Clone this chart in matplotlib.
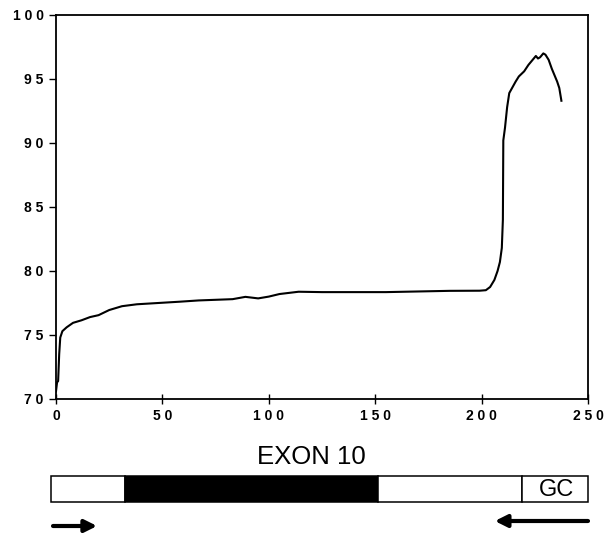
import matplotlib
matplotlib.use("Agg")
import matplotlib.pyplot as plt
from matplotlib.patches import Rectangle

# ---- data ----
position = [0, 0.5, 1, 1.5, 2, 3, 5, 8, 12, 16, 20, 25, 31, 38, 48, 58, 67, 75, 83, 89,
            95, 100, 105, 114, 125, 140, 155, 170, 185, 199, 202, 204, 206, 207.5, 208.6,
            209.5, 210, 210.2, 211, 212, 213, 214, 216, 217.5, 220, 222, 224, 225.5, 226.5,
            227.5, 229, 230, 231.5, 233, 234, 235.5, 236.5, 237.5]
melt_value = [70.6, 71.3, 71.4, 73.5, 74.8, 75.3, 75.6, 75.95, 76.15, 76.4, 76.55, 76.95,
              77.25, 77.4, 77.5, 77.6, 77.7, 77.75, 77.8, 77.98, 77.86, 78.0, 78.2, 78.38,
              78.35, 78.35, 78.35, 78.4, 78.45, 78.46, 78.5, 78.75, 79.3, 80.0, 80.7, 81.8,
              84.0, 90.2, 91.2, 92.8, 93.9, 94.2, 94.8, 95.2, 95.6, 96.1, 96.5, 96.8, 96.6,
              96.7, 97.0, 96.9, 96.5, 95.8, 95.4, 94.8, 94.3, 93.3]

x_ticks = [0, 50, 100, 150, 200, 250]
y_ticks = [70, 75, 80, 85, 90, 95, 100]

# gene map segments (sequence positions)
segment_start = [-2.4, 32.3, 151.4, 218.8]
segment_end = [32.3, 151.4, 218.8, 250]
segment_color = ["white", "black", "white", "white"]
exon_label = "EXON 10"
gc_label = "GC"
primer_forward = (-1.4, 19.3)
primer_reverse = (250, 206.2)

# ---- figure ----
W, H = 613, 533
fig = plt.figure(figsize=(W / 100, H / 100), dpi=100)
plt.rcParams['font.family'] = ['Liberation Sans', 'DejaVu Sans']

ax = fig.add_axes([56 / W, 1 - 399 / H, 532 / W, 384 / H])
ax.plot(position, melt_value, color="black", lw=1.5)
ax.set_xlim(0, 250)
ax.set_ylim(70, 100)
ax.set_xticks(x_ticks)
ax.set_yticks(y_ticks)
ax.set_xticklabels([" ".join(str(v)) for v in x_ticks], fontweight="bold", fontsize=10)
ax.set_yticklabels([" ".join(str(v)) for v in y_ticks], fontweight="bold", fontsize=10)
ax.tick_params(axis="y", direction="out", length=5, width=1, pad=4)
ax.tick_params(axis="x", direction="inout", length=7, width=1, pad=4)
for s in ax.spines.values():
    s.set_linewidth(1.3)

# ---- gene diagram ----
gx = fig.add_axes([56 / W, 0, 532 / W, 120 / H])
gx.set_xlim(0, 250)
gx.set_ylim(533, 413)  # pixel-like vertical layout
gx.axis("off")
for a, b, c in zip(segment_start, segment_end, segment_color):
    gx.add_patch(Rectangle((a, 476), b - a, 26, facecolor=c, edgecolor="black",
                           lw=1.1, clip_on=False))
gx.text((segment_start[1] + segment_end[1]) / 2 + 28, 457, exon_label, ha="center",
        va="center", fontsize=18.5)
gx.text((segment_start[3] + segment_end[3]) / 2 + 1, 490, gc_label, ha="center",
        va="center", fontsize=17)
gx.annotate("", xy=(primer_forward[1], 526), xytext=(primer_forward[0], 526),
            arrowprops=dict(arrowstyle="-|>", color="black", lw=3, mutation_scale=18,
                            shrinkA=0, shrinkB=0), annotation_clip=False)
gx.annotate("", xy=(primer_reverse[1], 521), xytext=(primer_reverse[0], 521),
            arrowprops=dict(arrowstyle="-|>", color="black", lw=3, mutation_scale=18,
                            shrinkA=0, shrinkB=0), annotation_clip=False)

fig.savefig("out.png", dpi=100, facecolor="white")
